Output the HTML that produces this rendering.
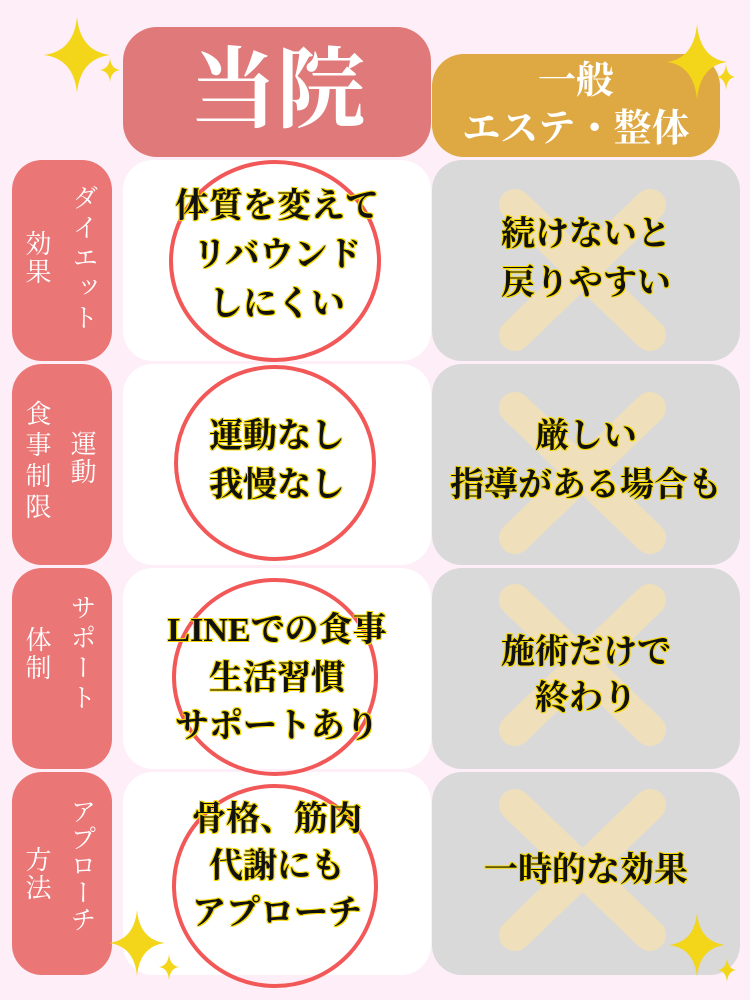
<!DOCTYPE html>
<html><head><meta charset="utf-8"><style>
*{margin:0;padding:0;box-sizing:border-box}
body{width:750px;height:1000px;background:#fdeef7;position:relative;overflow:hidden;font-family:"Liberation Serif","Noto Serif CJK JP","Noto Serif CJK SC",serif}
.b{position:absolute;border-radius:30px}
.lab{background:#eb7676;left:12px;width:100px}
.w{background:#fff;left:123px;width:308px}
.g{background:#d9d9d9;left:432px;width:308px}
.v{position:absolute;writing-mode:vertical-rl;line-height:1;color:#fff;font-size:26px;letter-spacing:2px}
.t{position:absolute;text-align:center;font-weight:bold;font-size:34px;line-height:49px;color:#111;white-space:nowrap;text-shadow:0 0 1px #f5d800,1px 1px 0 #f5d800,-1px -1px 0 #f5d800,1px -1px 0 #f5d800,-1px 1px 0 #f5d800}
svg{position:absolute;left:0;top:0}
</style></head><body>
<div class="b" style="left:123px;top:27px;width:308px;height:130px;background:#e07a7a;border-radius:34px"></div>
<div style="position:absolute;left:123px;top:40px;width:308px;text-align:center;color:#fff;font-size:88px;font-weight:bold;line-height:104px">当院</div>
<div class="b" style="left:432px;top:54px;width:288px;height:103px;background:#dea842;border-radius:32px"></div>
<div style="position:absolute;left:432px;top:57px;width:288px;text-align:center;color:#fff;font-size:38px;font-weight:bold;line-height:48px">一般<br>エステ・整体</div>

<div class="b lab" style="top:160px;height:201px"></div>
<div class="b w" style="top:160px;height:201px"></div>
<div class="b g" style="top:160px;height:201px"></div>
<div class="b lab" style="top:364px;height:201px"></div>
<div class="b w" style="top:364px;height:201px"></div>
<div class="b g" style="top:364px;height:201px"></div>
<div class="b lab" style="top:568px;height:201px"></div>
<div class="b w" style="top:568px;height:201px"></div>
<div class="b g" style="top:568px;height:201px"></div>
<div class="b lab" style="top:772px;height:203px"></div>
<div class="b w" style="top:772px;height:203px"></div>
<div class="b g" style="top:772px;height:203px"></div>

<svg width="750" height="1000">
<g stroke="#efe0bb" stroke-width="32" stroke-linecap="round">
<line x1="515" y1="205" x2="650" y2="335"/><line x1="650" y1="205" x2="515" y2="335"/>
<line x1="515" y1="408" x2="650" y2="538"/><line x1="650" y1="408" x2="515" y2="538"/>
<line x1="515" y1="600" x2="650" y2="730"/><line x1="650" y1="600" x2="515" y2="730"/>
<line x1="515" y1="805" x2="650" y2="935"/><line x1="650" y1="805" x2="515" y2="935"/>
</g>
<g fill="none" stroke="#f25858" stroke-width="4">
<ellipse cx="275" cy="261" rx="104" ry="99"/>
<ellipse cx="275" cy="463" rx="99" ry="96"/>
<ellipse cx="275" cy="677" rx="101" ry="97"/>
<ellipse cx="275" cy="886" rx="101" ry="100"/>
</g>
</svg>

<div class="v" style="left:70px;top:184px;letter-spacing:4px">ダイエット</div>
<div class="v" style="left:23px;top:230px">効果</div>
<div class="v" style="left:68px;top:430px">運動</div>
<div class="v" style="left:23px;top:400px;letter-spacing:5px">食事制限</div>
<div class="v" style="left:68px;top:594px;letter-spacing:4px">サポート</div>
<div class="v" style="left:23px;top:626px">体制</div>
<div class="v" style="left:68px;top:798px;letter-spacing:1px">アプローチ</div>
<div class="v" style="left:23px;top:846px">方法</div>

<div class="t" style="left:123px;width:308px;top:182px">体質を変えて<br>リバウンド<br>しにくい</div>
<div class="t" style="left:432px;width:308px;top:210px">続けないと<br>戻りやすい</div>
<div class="t" style="left:123px;width:308px;top:412px">運動なし<br>我慢なし</div>
<div class="t" style="left:432px;width:308px;top:412px">厳しい<br>指導がある場合も</div>
<div class="t" style="left:123px;width:308px;top:607px;line-height:48px">LINEでの食事<br>生活習慣<br>サポートあり</div>
<div class="t" style="left:432px;width:308px;top:630px;line-height:46px">施術だけで<br>終わり</div>
<div class="t" style="left:123px;width:308px;top:796px;line-height:47px">骨格、筋肉<br>代謝にも<br>アプローチ</div>
<div class="t" style="left:432px;width:308px;top:846px">一時的な効果</div>

<svg width="750" height="1000">
<defs><path id="s" d="M0,-1 Q0.1,-0.1 1,0 Q0.1,0.1 0,1 Q-0.1,0.1 -1,0 Q-0.1,-0.1 0,-1Z" fill="#f3d51a"/></defs>
<use href="#s" transform="translate(77,55) scale(33,38)"/>
<use href="#s" transform="translate(110,70) scale(10,12)"/>
<use href="#s" transform="translate(697,62) scale(30,38)"/>
<use href="#s" transform="translate(726,77) scale(9,13)"/>
<use href="#s" transform="translate(137,943) scale(28,33)"/>
<use href="#s" transform="translate(169,967) scale(10,13)"/>
<use href="#s" transform="translate(697,945) scale(28,32)"/>
<use href="#s" transform="translate(727,970) scale(9,12)"/>
</svg>
</body></html>
